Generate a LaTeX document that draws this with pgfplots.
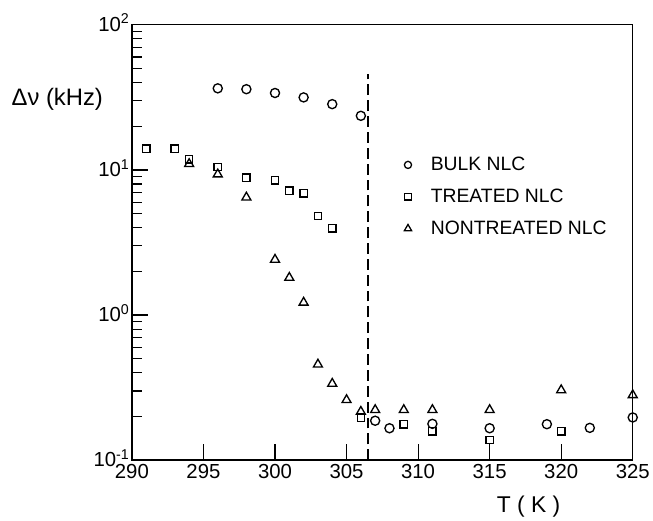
\documentclass[border=0pt]{standalone}
\usepackage{fontspec}
\setmainfont{Liberation Sans}
\usepackage{pgfplots}
\pgfplotsset{compat=1.18}
\begin{document}
\begin{tikzpicture}
\begin{semilogyaxis}[
  scale only axis, width=505pt, height=439pt,
  xmin=290, xmax=325, ymin=0.1, ymax=100,
  xtick={290,295,...,325},
  ytick={0.1,1,10,100},
  yticklabels={10\textsuperscript{-1},10\textsuperscript{0},10\textsuperscript{1},10\textsuperscript{2}},
  xticklabel style={/pgf/number format/assume math mode=true, font=\fontsize{20.5}{24}\selectfont, yshift=-1pt},
  yticklabel style={font=\fontsize{20.5}{24}\selectfont, yshift=2pt, xshift=1pt},
  xtick pos=bottom, ytick pos=left,
  tick align=inside,
  major tick length=16pt, minor tick length=10pt,
  every tick/.style={line width=1.2pt, black},
  axis line style={line width=1.4pt},
  clip=false,
  legend image code/.code={\path[draw=none,fill=none] (-4pt,0pt) -- (21pt,0pt); \draw[#1] plot coordinates {(0pt,0pt)};},
  legend style={draw=none, fill=none, font=\fontsize{19.5}{23}\selectfont, at={(rel axis cs:0.537,0.705)}, anchor=north west, row sep=13pt},
  legend cell align=left,
]
\addlegendimage{only marks, mark=o, mark size=3.6pt, line width=1.3pt}
\addlegendentry{BULK NLC}
\addlegendimage{only marks, mark=square, mark size=3.2pt, line width=1.3pt}
\addlegendentry{TREATED NLC}
\addlegendimage{only marks, mark=triangle, mark size=4.2pt, line width=1.3pt}
\addlegendentry{NONTREATED NLC}

\addplot[forget plot, black, line width=1.1pt, dash pattern=on 11pt off 5pt] coordinates {(306.5,0.1) (306.5,46)};

\addplot[forget plot, only marks, mark=o, mark size=4.6pt, line width=1.35pt] coordinates {
(296,36.5) (298,36) (300,33.9) (302,31.6) (304,28.4) (306,23.6)
(307,0.187) (308,0.166) (311,0.178) (315,0.166) (319,0.177) (322,0.167) (325,0.197)};

\addplot[forget plot, only marks, mark=square, mark size=3.7pt, line width=1.35pt] coordinates {
(291,14.0) (293,14.0) (294,11.8) (296,10.5) (298,8.86) (300,8.49) (301,7.18) (302,6.89) (303,4.82) (304,3.97)
(306,0.196) (309,0.177) (311,0.158) (315,0.138) (320,0.158)};

\addplot[forget plot, only marks, mark=triangle, mark size=5.2pt, line width=1.35pt] coordinates {
(294,11.0) (296,9.33) (298,6.47) (300,2.41) (301,1.81) (302,1.22) (303,0.457) (304,0.337) (305,0.260)
(306,0.216) (307,0.222) (309,0.222) (311,0.222) (315,0.222) (320,0.304) (325,0.281)};

\node[font=\fontsize{24}{28}\selectfont] at (rel axis cs:-0.149,0.829) {Δν (kHz)};
\node[font=\fontsize{23}{27}\selectfont] at (rel axis cs:0.792,-0.107) {T ( K )};
\coordinate (o) at (rel axis cs:0,0);
\end{semilogyaxis}
\path (o) ++(-133pt,-59pt) rectangle ++(653pt,523pt);
\end{tikzpicture}
\end{document}
